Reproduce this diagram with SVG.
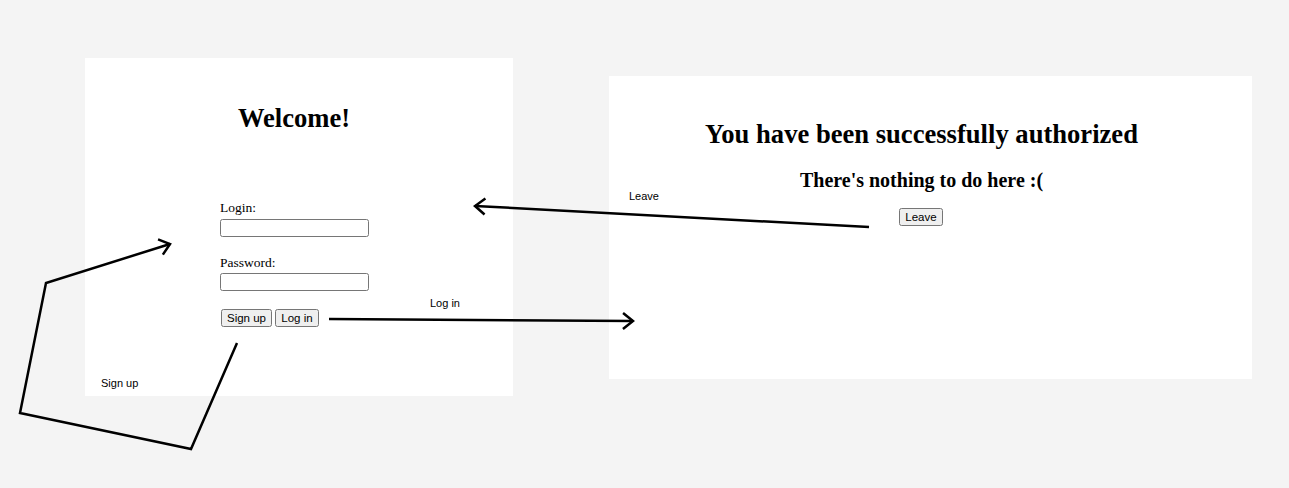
<svg xmlns="http://www.w3.org/2000/svg" width="1289" height="488" viewBox="0 0 1289 488">
<style>
.panel{fill:#ffffff}
.h1{font-family:"Liberation Serif",serif;font-weight:bold;font-size:26.6px;fill:#000}
.h2{font-family:"Liberation Serif",serif;font-weight:bold;font-size:20px;fill:#000}
.lbl{font-family:"Liberation Serif",serif;font-size:13.5px;fill:#000}
.inp{fill:#fff;stroke:#767676;stroke-width:1}
.btn{fill:#efefef;stroke:#767676;stroke-width:1}
.btxt{font-family:"Liberation Sans",Arial,sans-serif;font-size:11.5px;fill:#000;text-anchor:middle}
.note{font-family:"Liberation Sans",Arial,sans-serif;font-size:11px;fill:#000}
.conn{fill:none;stroke:#000;stroke-width:2.5;stroke-linejoin:miter;stroke-linecap:butt}
</style>
<defs>
<marker id="arr" markerUnits="userSpaceOnUse" markerWidth="30" markerHeight="30" refX="15" refY="15" orient="auto" viewBox="0 0 30 30">
<path d="M5,7 L15,15 L5,23" fill="none" stroke="#000" stroke-width="2.5"/>
</marker>
</defs>
<rect x="0" y="0" width="1289" height="488" fill="#f4f4f4"/>
<g id="login-page">
<rect class="panel" x="85" y="58" width="428" height="338"/>
<text class="h1" x="294" y="127" text-anchor="middle">Welcome!</text>
<text class="lbl" x="220" y="212">Login:</text>
<rect class="inp" x="220.5" y="219.5" width="148" height="17" rx="2"/>
<text class="lbl" x="220" y="267">Password:</text>
<rect class="inp" x="220.5" y="273.5" width="148" height="17" rx="2"/>
<rect class="btn" x="221.5" y="309.5" width="50" height="17" rx="2"/>
<text class="btxt" x="246.5" y="322">Sign up</text>
<rect class="btn" x="275.5" y="309.5" width="43" height="17" rx="2"/>
<text class="btxt" x="297" y="322">Log in</text>
</g>
<g id="success-page">
<rect class="panel" x="609" y="76" width="643" height="303"/>
<text class="h1" x="921.5" y="143" text-anchor="middle">You have been successfully authorized</text>
<text class="h2" x="921.5" y="187" text-anchor="middle">There's nothing to do here :(</text>
<rect class="btn" x="899.5" y="208.5" width="43" height="17" rx="2"/>
<text class="btxt" x="921" y="221">Leave</text>
</g>
<g id="connectors">
<path class="conn" d="M329,319 L633,321" marker-end="url(#arr)"/>
<text class="note" x="430" y="307">Log in</text>
<path class="conn" d="M869,227 L475,206" marker-end="url(#arr)"/>
<text class="note" x="629" y="200">Leave</text>
<path class="conn" d="M237,343 L191,449 L20,413 L46,283 L170,244" marker-end="url(#arr)"/>
<text class="note" x="101" y="387">Sign up</text>
</g>
</svg>
